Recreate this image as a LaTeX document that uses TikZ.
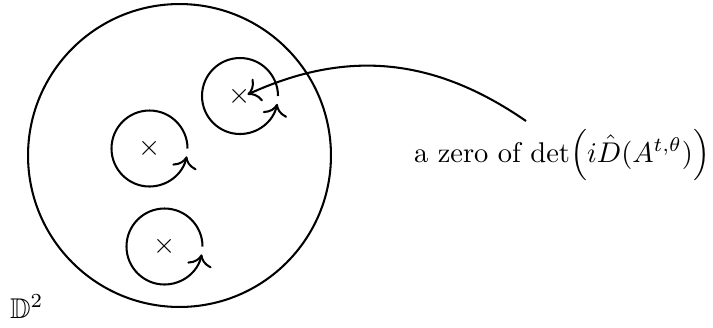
\documentclass[tikz,border=0pt]{standalone}
\usepackage{amssymb}
\usetikzlibrary{arrows.meta}
\begin{document}
\begin{tikzpicture}[x=0.3509pt,y=-0.3509pt, line width=0.72pt,
  >={Computer Modern Rightarrow[scale=1.3]},
  zero/.style={inner sep=0pt},
  loop/.style={->},
]
\useasboundingbox (0,0) rectangle (713,327);
\node[draw, circle, inner sep=0pt, minimum size=106.3pt] (disk) at (179.5,155.5) {};
\node[zero] (z1) at (240,96) {$\times$};
\node[zero] (z2) at (149.5,148.5) {$\times$};
\node[zero] (z3) at (164.5,246.5) {$\times$};
\draw[loop] ([shift={(38,0)}]z1.center) arc[start angle=0, end angle=-348, radius=38];
\draw[loop] ([shift={(38,0)}]z2.center) arc[start angle=0, end angle=-348, radius=38];
\draw[loop] ([shift={(38,0)}]z3.center) arc[start angle=0, end angle=-348, radius=38];
\node[anchor=base west, inner sep=0pt] (label) at (413,162) {a zero of $\det\Bigl(i\hat{D}(A^{t,\theta})\Bigr)$};
\coordinate (start) at (526,121);
\coordinate (tip) at (247.5,94.5);
\draw[->] (start) .. controls (432,56) and (345,50) .. (tip);
\node[anchor=base west, inner sep=0pt] (dname) at (9,318) {$\mathbb{D}^2$};
\end{tikzpicture}
\end{document}
